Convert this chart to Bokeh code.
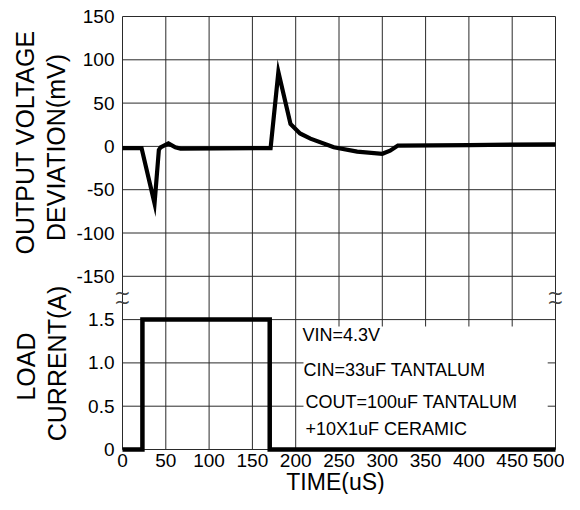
import math
from bokeh.plotting import figure
from bokeh.models import Range1d, FixedTicker, Label
from bokeh.embed import file_html
from bokeh.resources import INLINE

# ---- data ----
volt_time = [0, 22, 37, 42, 44, 53, 61, 67, 171, 180, 194, 205, 217, 244, 271, 300, 309, 318, 400, 500]
volt_mv = [-2, -2, -66, -4, -1, 3.5, -1, -2.5, -2, 86, 26, 15, 9, -1, -6, -8.5, -5, 1, 1.5, 2.5]

cur_time = [0, 23, 170, 500]
cur_amp = [0, 1.5, 0, 0]

x_ticks = [0, 50, 100, 150, 200, 250, 300, 350, 400, 450, 500]
mv_ticks = [-150, -100, -50, 0, 50, 100, 150]
mv_labels = ["-150", "-100", "-50", "0", "50", "100", "150"]
amp_ticks = [0, 0.5, 1.0, 1.5]
amp_labels = ["0", "0.5", "1.0", "1.5"]

notes = ["VIN=4.3V", "CIN=33uF TANTALUM", "COUT=100uF TANTALUM", "+10X1uF CERAMIC"]

# ---- geometry (canvas pixels) ----
W, H = 564, 494
BOX_L, BOX_R, BOX_T, BOX_B = 122, 555, 16, 449
CELLS = 10                       # 6 voltage cells + 1 break cell + 3 current cells
cell_px = (BOX_B - BOX_T) / CELLS

t_min, t_max = 0, 500
px_per_t = (BOX_R - BOX_L) / (t_max - t_min)

mv_per_cell = 50
amp_per_cell = 0.5
mv_top = 150
mv_bottom = mv_top - CELLS * mv_per_cell          # -350 : frame bottom in mV units
amp_bottom = 0

def amp_to_mv(a):
    return mv_bottom + (a - amp_bottom) / amp_per_cell * mv_per_cell

x_range = Range1d(t_min - BOX_L / px_per_t, t_max + (W - BOX_R) / px_per_t)
y_range = Range1d(mv_bottom - (H - BOX_B) / cell_px * mv_per_cell,
                  mv_top + BOX_T / cell_px * mv_per_cell)
amp_range = Range1d(amp_bottom - (H - BOX_B) / cell_px * amp_per_cell,
                    amp_bottom + CELLS * amp_per_cell + BOX_T / cell_px * amp_per_cell)

FONT = "Liberation Sans"

p = figure(width=W, height=H, x_range=x_range, y_range=y_range,
           output_backend="svg", toolbar_location=None, min_border=0)
p.extra_y_ranges = {"amp": amp_range}
p.background_fill_color = "white"
p.border_fill_color = "white"
p.outline_line_color = None
p.xgrid.visible = False
p.ygrid.visible = False

all_y_ticks = [amp_to_mv(a) for a in amp_ticks] + mv_ticks
overrides = {}
for a, lab in zip(amp_ticks, amp_labels):
    overrides[amp_to_mv(a)] = lab
for v, lab in zip(mv_ticks, mv_labels):
    overrides[v] = lab

# axes drawn along the edges of the data box
p.xaxis.fixed_location = mv_bottom
p.yaxis.fixed_location = t_min
p.xaxis.ticker = FixedTicker(ticks=x_ticks)
p.yaxis.ticker = FixedTicker(ticks=all_y_ticks)
p.yaxis.major_label_overrides = overrides
for ax in (p.xaxis, p.yaxis):
    ax.axis_line_color = None
    ax.major_tick_line_color = None
    ax.minor_tick_line_color = None
    ax.major_tick_out = 0
    ax.major_tick_in = 0
    ax.major_label_text_font = FONT
    ax.major_label_text_color = "black"
    ax.major_label_text_font_size = "19px"
p.yaxis.major_label_standoff = 8
p.xaxis.major_label_standoff = 4

# grid (cell lines, including the outer box)
p.segment(x0=x_ticks, y0=[mv_bottom] * len(x_ticks), x1=x_ticks, y1=[mv_top] * len(x_ticks),
          line_color="#2a2a2a", line_width=1)
p.segment(x0=[t_min] * len(all_y_ticks), y0=all_y_ticks, x1=[t_max] * len(all_y_ticks), y1=all_y_ticks,
          line_color="#2a2a2a", line_width=1)

# white note box in the lower right cells
p.quad(left=209, right=491, bottom=0, top=1.42, y_range_name="amp",
       fill_color="white", line_color=None)

# traces
p.line(volt_time, volt_mv, line_color="black", line_width=4.2, line_join="miter")
p.step(cur_time, cur_amp, mode="after", y_range_name="amp",
       line_color="black", line_width=4.5, line_join="miter")

def screen_label(txt, cx, cy, size, align="left", angle=0.0, font=FONT):
    p.add_layout(Label(x=cx, y=H - cy, x_units="screen", y_units="screen", text=txt,
                       text_font=font, text_font_size=size, text_color="black",
                       text_align=align, text_baseline="middle", angle=angle))

# notes
for txt, cx, cy in zip(notes, [302, 303, 305, 305], [334, 369, 401, 428]):
    screen_label(txt, cx, cy, "18px")

# axis titles
screen_label("OUTPUT VOLTAGE", 24, 142, "25px", "center", math.pi / 2)
screen_label("DEVIATION(mV)", 55, 147, "25px", "center", math.pi / 2)
screen_label("LOAD", 25, 366, "25px", "center", math.pi / 2)
screen_label("CURRENT(A)", 56, 363, "25px", "center", math.pi / 2)
screen_label("TIME(uS)", 335, 481, "23px", "center")

# axis break marks
for bx in (t_min, t_max):
    for off in (5, -4):
        p.add_layout(Label(x=bx, y=(amp_to_mv(1.5) + mv_ticks[0]) / 2, text="~", y_offset=off,
                           text_font="DejaVu Sans", text_font_size="20px", text_color="#444444",
                           text_align="center", text_baseline="middle"))

open("out.html", "w").write(file_html(p, INLINE))
